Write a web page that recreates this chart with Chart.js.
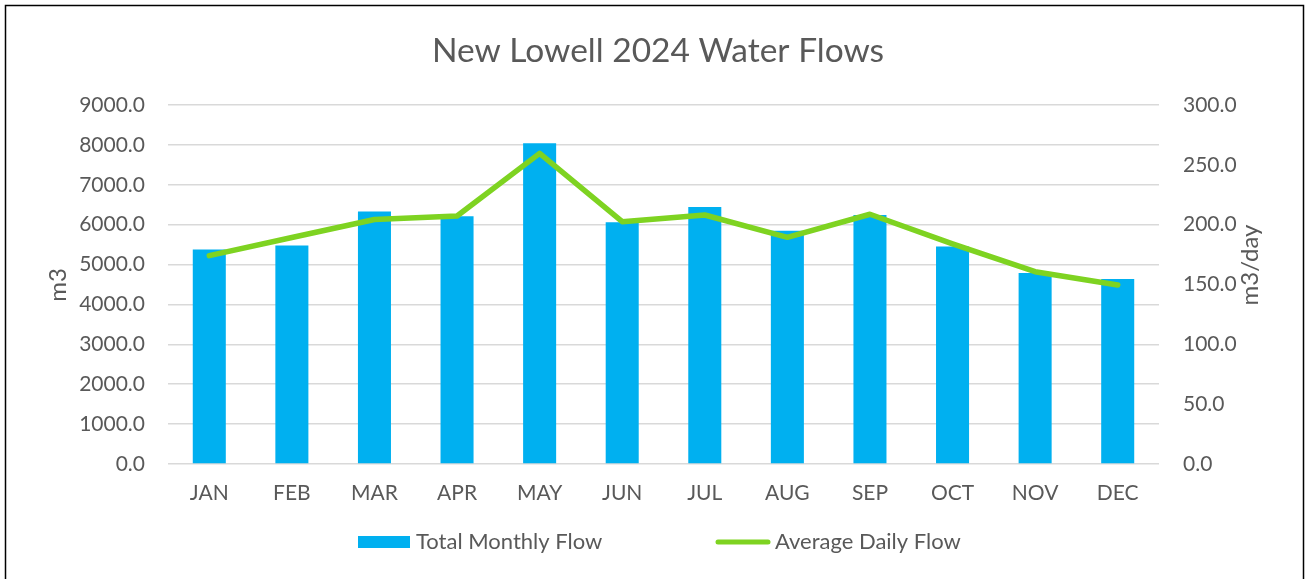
<!DOCTYPE html>
<html><head><meta charset="utf-8">
<script src="https://cdn.jsdelivr.net/npm/chart.js@4.4.1/dist/chart.umd.min.js"></script>
<style>html,body{margin:0;padding:0;background:#fff;overflow:hidden;}</style>
</head><body>
<canvas id="c" width="1309" height="579" style="display:block;width:1309px;height:579px"></canvas>
<script>
const chartTitle = 'New Lowell 2024 Water Flows';
const months = ['JAN','FEB','MAR','APR','MAY','JUN','JUL','AUG','SEP','OCT','NOV','DEC'];
const totalMonthlyFlow = [5380, 5475, 6330, 6210, 8040, 6060, 6440, 5850, 6240, 5450, 4790, 4640];
const averageDailyFlow = [174.1, 189.3, 204.3, 207.2, 259.6, 202.5, 208.1, 189.4, 208.7, 184.0, 160.7, 149.6];
const leftTicks = [0, 1000, 2000, 3000, 4000, 5000, 6000, 7000, 8000, 9000];
const rightTicks = [0, 50, 100, 150, 200, 250, 300];
const leftTitle = 'm3';
const rightTitle = 'm3/day';
const seriesNames = ['Total Monthly Flow', 'Average Daily Flow'];

const FONT = 'Lato';
const TXT = '#595959';
const BAR = '#00b0f0';
const LINE = '#7ed321';

const deco = {
  id: 'deco',
  beforeDraw(chart) {
    const ctx = chart.ctx;
    ctx.save();
    ctx.fillStyle = '#fff';
    ctx.fillRect(0, 0, chart.width, chart.height);
    ctx.strokeStyle = '#000';
    ctx.lineWidth = 1.5;
    ctx.strokeRect(5.5, 5.5, 1298, 600);
    ctx.restore();
  },
  afterDraw(chart) {
    const ctx = chart.ctx;
    const ca = chart.chartArea;
    ctx.save();
    ctx.fillStyle = TXT;
    // title
    ctx.font = '33.5px ' + FONT;
    ctx.textAlign = 'center';
    ctx.textBaseline = 'alphabetic';
    ctx.fillText(chartTitle, 658, 62);
    // axis titles
    ctx.font = '24px ' + FONT;
    ctx.textBaseline = 'middle';
    ctx.save();
    ctx.translate(58, 285);
    ctx.rotate(-Math.PI / 2);
    ctx.fillText(leftTitle, 0, 0);
    ctx.restore();
    ctx.save();
    ctx.translate(1250, 265);
    ctx.rotate(-Math.PI / 2);
    ctx.fillText(rightTitle, 0, 0);
    ctx.restore();
    // legend
    const ly = 542;
    ctx.font = '22px ' + FONT;
    ctx.textAlign = 'left';
    ctx.fillStyle = BAR;
    ctx.fillRect(358, ly - 6, 52, 12);
    ctx.fillStyle = TXT;
    ctx.fillText(seriesNames[0], 416, ly);
    ctx.strokeStyle = LINE;
    ctx.lineWidth = 5;
    ctx.lineCap = 'round';
    ctx.beginPath();
    ctx.moveTo(718, ly);
    ctx.lineTo(768, ly);
    ctx.stroke();
    ctx.fillText(seriesNames[1], 775, ly);
    ctx.restore();
  }
};

const tickFont = {family: FONT, size: 21};

new Chart(document.getElementById('c'), {
  data: {
    labels: months,
    datasets: [
      {type: 'line', label: seriesNames[1], data: averageDailyFlow, yAxisID: 'y1',
       borderColor: LINE, backgroundColor: LINE, borderWidth: 5.5, pointRadius: 0,
       tension: 0, borderCapStyle: 'round', borderJoinStyle: 'round', order: 0},
      {type: 'bar', label: seriesNames[0], data: totalMonthlyFlow, yAxisID: 'y',
       backgroundColor: BAR, barPercentage: 0.4, categoryPercentage: 1, order: 1}
    ]
  },
  options: {
    responsive: false, animation: false, devicePixelRatio: 1,
    layout: {padding: {top: 105, left: 0, right: 0, bottom: 0}},
    plugins: {legend: {display: false}, title: {display: false}, tooltip: {enabled: false}},
    scales: {
      x: {
        grid: {display: false, drawTicks: false}, border: {display: false},
        ticks: {color: TXT, font: tickFont, padding: 17, maxRotation: 0},
        afterFit: s => { s.height = 115; }
      },
      y: {
        position: 'left', min: 0, max: 9000,
        afterBuildTicks: s => { s.ticks = leftTicks.map(v => ({value: v})); },
        ticks: {color: TXT, font: tickFont, padding: 23, callback: v => Number(v).toFixed(1)},
        grid: {color: '#d9d9d9', lineWidth: 1.5, drawTicks: false}, border: {display: false},
        afterFit: s => { s.width = 168; }
      },
      y1: {
        position: 'right', min: 0, max: 300,
        afterBuildTicks: s => { s.ticks = rightTicks.map(v => ({value: v})); },
        ticks: {color: TXT, font: tickFont, padding: 24, callback: v => Number(v).toFixed(1)},
        grid: {display: false, drawTicks: false}, border: {display: false},
        afterFit: s => { s.width = 150; }
      }
    }
  },
  plugins: [deco]
});
</script>
</body></html>
